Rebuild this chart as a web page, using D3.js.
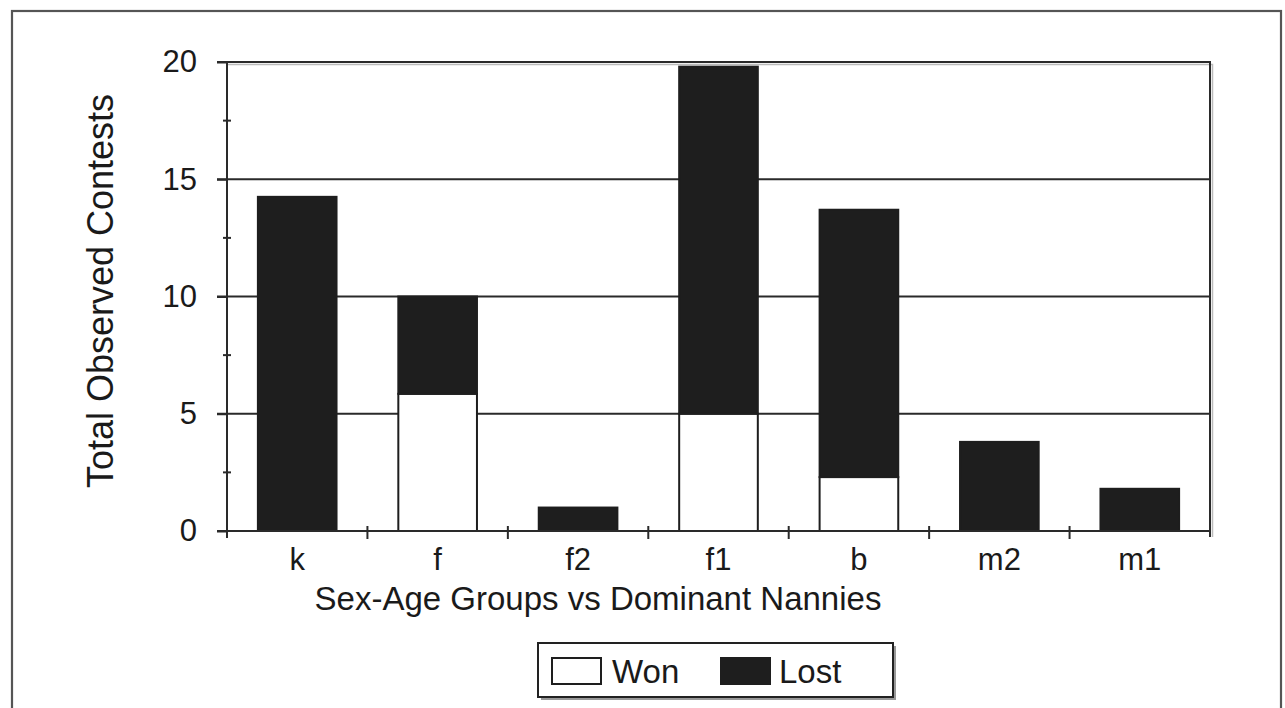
<!DOCTYPE html>
<html>
<head>
<meta charset="utf-8">
<script src="https://cdn.jsdelivr.net/npm/d3@7"></script>
<style>
  html, body { margin: 0; padding: 0; background: #fff; }
  svg { display: block; }
  text { font-family: "Liberation Sans", Arial, Helvetica, sans-serif; fill: #1a1a1a; }
</style>
</head>
<body>
<svg id="chart" width="1285" height="708"></svg>
<script>
// Contest outcomes of each sex-age group against dominant nannies
const categories = ["k", "f", "f2", "f1", "b", "m2", "m1"];
const won  = [0, 5.85, 0, 5, 2.3, 0, 0];
const lost = [14.25, 4.15, 1.0, 14.8, 11.4, 3.8, 1.8];
const yTicks = [0, 5, 10, 15, 20];
const yMinorTicks = [2.5, 7.5, 12.5, 17.5];
const seriesNames = ["Won", "Lost"];

const svg = d3.select("#chart");
const plot = { left: 227, right: 1210, top: 62, bottom: 531 };
const ink = "#1e1e1e";

// outer frame
svg.append("rect")
  .attr("x", 12).attr("y", 11).attr("width", 1269).attr("height", 710)
  .attr("fill", "none").attr("stroke", "#555").attr("stroke-width", 2.2);

const x = d3.scaleBand()
  .domain(categories)
  .range([plot.left, plot.right])
  .paddingInner(0.44)
  .paddingOuter(0.22);

const y = d3.scaleLinear()
  .domain([0, 20])
  .range([plot.bottom, plot.top]);

const rows = categories.map((c, i) => ({ cat: c, won: won[i], lost: lost[i] }));
const stacked = d3.stack().keys(["won", "lost"])(rows);

// horizontal gridlines (the 20 line also forms the top of the plot frame)
svg.append("g")
  .selectAll("line")
  .data(yTicks.filter(t => t > 0))
  .join("line")
  .attr("x1", plot.left - 10).attr("x2", plot.right)
  .attr("y1", d => y(d)).attr("y2", d => y(d))
  .attr("stroke", "#2a2a2a").attr("stroke-width", 2);

// soft shadow along the top and right plot edges
svg.append("path")
  .attr("d", `M${plot.left},${plot.top + 2.5} H${plot.right + 2.5} V${plot.bottom + 6}`)
  .attr("fill", "none").attr("stroke", "#bbb").attr("stroke-width", 1.5);

// right plot edge
svg.append("line")
  .attr("x1", plot.right).attr("x2", plot.right)
  .attr("y1", plot.top - 1).attr("y2", plot.bottom + 6)
  .attr("stroke", "#2a2a2a").attr("stroke-width", 2);

// stacked bars
const fills = { won: "#ffffff", lost: ink };
svg.append("g")
  .selectAll("g")
  .data(stacked)
  .join("g")
  .attr("fill", d => fills[d.key])
  .selectAll("rect")
  .data(d => d.filter(s => s[1] - s[0] > 0))
  .join("rect")
  .attr("x", d => x(d.data.cat))
  .attr("width", x.bandwidth())
  .attr("y", d => y(d[1]))
  .attr("height", d => y(d[0]) - y(d[1]))
  .attr("stroke", ink).attr("stroke-width", 2);

// y axis
const yAxis = svg.append("g")
  .attr("transform", `translate(${plot.left},0)`)
  .call(d3.axisLeft(y).tickValues(yTicks).tickSize(10).tickPadding(20).tickFormat(d3.format("d")));
yAxis.select(".domain").remove();
yAxis.selectAll(".tick line").attr("stroke", "#2a2a2a").attr("stroke-width", 2);
yAxis.selectAll(".tick text").style("font-size", "31px").attr("fill", "#1a1a1a");
svg.append("line")
  .attr("x1", plot.left).attr("x2", plot.left)
  .attr("y1", plot.top).attr("y2", plot.bottom + 7)
  .attr("stroke", "#2a2a2a").attr("stroke-width", 2);

// minor y ticks crossing the axis
svg.append("g")
  .selectAll("line")
  .data(yMinorTicks)
  .join("line")
  .attr("x1", plot.left - 4).attr("x2", plot.left + 4)
  .attr("y1", d => y(d)).attr("y2", d => y(d))
  .attr("stroke", "#2a2a2a").attr("stroke-width", 2);

// x axis baseline
svg.append("line")
  .attr("x1", plot.left - 10).attr("x2", plot.right)
  .attr("y1", plot.bottom).attr("y2", plot.bottom)
  .attr("stroke", "#2a2a2a").attr("stroke-width", 2);

// category divider ticks
const step = x.step();
svg.append("g")
  .selectAll("line")
  .data(categories.slice(1))
  .join("line")
  .attr("x1", d => x(d) - step * 0.22).attr("x2", d => x(d) - step * 0.22)
  .attr("y1", plot.bottom - 5).attr("y2", plot.bottom + 8)
  .attr("stroke", "#2a2a2a").attr("stroke-width", 2);

// category labels
svg.append("g")
  .selectAll("text")
  .data(categories)
  .join("text")
  .attr("x", d => x(d) + x.bandwidth() / 2)
  .attr("y", 570)
  .attr("text-anchor", "middle")
  .style("font-size", "31px")
  .text(d => d);

// axis titles
svg.append("text")
  .attr("x", 598).attr("y", 610)
  .attr("text-anchor", "middle")
  .style("font-size", "33px")
  .text("Sex-Age Groups vs Dominant Nannies");

svg.append("text")
  .attr("transform", "translate(113,291) rotate(-90)")
  .attr("text-anchor", "middle")
  .style("font-size", "36px")
  .text("Total Observed Contests");

// legend
const lg = svg.append("g");
lg.append("rect")
  .attr("x", 541).attr("y", 646).attr("width", 355).attr("height", 54)
  .attr("fill", "#999");
lg.append("rect")
  .attr("x", 538).attr("y", 643).attr("width", 355).attr("height", 54)
  .attr("fill", "#fff").attr("stroke", "#222").attr("stroke-width", 2);

const legendItems = [
  { name: seriesNames[0], fill: fills.won, sx: 552, tx: 612 },
  { name: seriesNames[1], fill: fills.lost, sx: 721, tx: 779 }
];
lg.selectAll("rect.sw")
  .data(legendItems)
  .join("rect")
  .attr("class", "sw")
  .attr("x", d => d.sx).attr("y", 658)
  .attr("width", 49).attr("height", 26)
  .attr("fill", d => d.fill).attr("stroke", ink).attr("stroke-width", 2);
lg.selectAll("text")
  .data(legendItems)
  .join("text")
  .attr("x", d => d.tx).attr("y", 683)
  .style("font-size", "33px")
  .text(d => d.name);
</script>
</body>
</html>
